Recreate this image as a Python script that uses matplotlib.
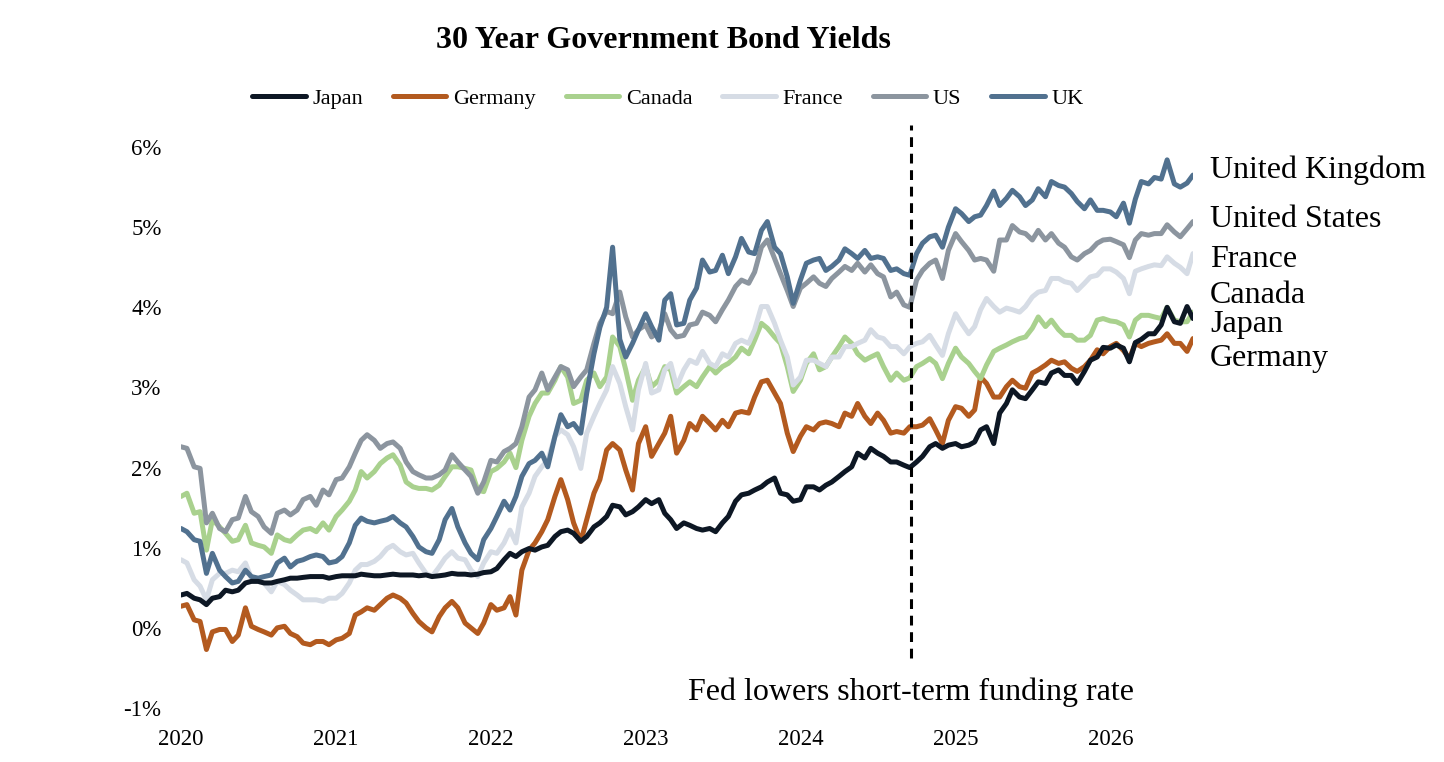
import matplotlib
matplotlib.use("Agg")
import matplotlib.pyplot as plt
import matplotlib.dates as mdates
import matplotlib.transforms as mtransforms
import pandas as pd

plt.rcParams['font.family'] = ['Liberation Serif', 'DejaVu Serif']

# half-monthly observations, Jan 2020 - mid Jul 2026 (158 points)
dates = pd.date_range("2020-01-01", periods=158, freq="SMS")

japan = [0.41, 0.43, 0.37, 0.35, 0.29, 0.37, 0.39, 0.47, 0.45, 0.47,
         0.56, 0.58, 0.58, 0.56, 0.56, 0.58, 0.60, 0.62, 0.62, 0.63,
         0.64, 0.64, 0.64, 0.62, 0.64, 0.65, 0.65, 0.65, 0.67, 0.66,
         0.65, 0.65, 0.66, 0.67, 0.66, 0.66, 0.66, 0.65, 0.66, 0.64,
         0.65, 0.66, 0.68, 0.67, 0.67, 0.66, 0.67, 0.69, 0.70, 0.74,
         0.85, 0.93, 0.89, 0.95, 0.99, 0.97, 1.01, 1.03, 1.14, 1.20,
         1.22, 1.18, 1.08, 1.14, 1.26, 1.31, 1.39, 1.53, 1.51, 1.41,
         1.45, 1.51, 1.60, 1.55, 1.60,
         1.43, 1.35, 1.24, 1.31, 1.28, 1.24, 1.22, 1.24, 1.20, 1.31,
         1.39, 1.58, 1.66, 1.68, 1.72, 1.76, 1.82, 1.87, 1.68, 1.66,
         1.58, 1.60, 1.76, 1.76, 1.72, 1.78, 1.82, 1.89, 1.95, 2.01,
         2.18, 2.12, 2.24, 2.18, 2.14, 2.07, 2.07, 2.03, 2.00,
         2.07, 2.14, 2.26, 2.30, 2.24, 2.28, 2.30, 2.26, 2.28, 2.32,
         2.47, 2.51, 2.30, 2.68, 2.80, 2.97, 2.88, 2.86, 2.97, 3.07,
         3.05, 3.18, 3.22, 3.15, 3.15, 3.05, 3.20, 3.34, 3.38,
         3.50, 3.49, 3.53, 3.49, 3.32, 3.56, 3.60, 3.67, 3.67, 3.78,
         4.00, 3.82, 3.80, 4.01, 3.86]

germany = [0.27, 0.29, 0.10, 0.08, -0.27, -0.05, -0.02, -0.02, -0.17, -0.09,
           0.25, 0.02, -0.02, -0.05, -0.09, 0.00, 0.02, -0.07, -0.11, -0.19,
           -0.21, -0.17, -0.17, -0.21, -0.15, -0.13, -0.07, 0.16, 0.20, 0.25,
           0.22, 0.29, 0.37, 0.41, 0.37, 0.31, 0.18, 0.08, 0.00, -0.05,
           0.14, 0.25, 0.33, 0.25, 0.06, 0.00, -0.07, 0.06, 0.29, 0.22,
           0.25, 0.39, 0.16, 0.72, 0.97, 1.06, 1.20, 1.35, 1.64, 1.85,
           1.60, 1.31, 1.08, 1.35, 1.68, 1.85, 2.22, 2.30, 2.22, 1.97,
           1.72, 2.30, 2.51, 2.14, 2.30,
           2.43, 2.64, 2.18, 2.34, 2.55, 2.47, 2.64, 2.55, 2.47, 2.59,
           2.51, 2.68, 2.70, 2.68, 2.88, 3.07, 3.09, 2.93, 2.80, 2.43,
           2.20, 2.39, 2.51, 2.47, 2.55, 2.57, 2.55, 2.51, 2.68, 2.64,
           2.80, 2.64, 2.55, 2.68, 2.59, 2.43, 2.45, 2.43, 2.51,
           2.51, 2.53, 2.61, 2.47, 2.30, 2.59, 2.76, 2.74, 2.64, 2.72,
           3.13, 3.05, 2.88, 2.88, 3.01, 3.09, 3.01, 2.99, 3.18, 3.22,
           3.28, 3.34, 3.30, 3.32, 3.24, 3.20, 3.26, 3.34, 3.47,
           3.42, 3.51, 3.55, 3.46, 3.36, 3.55, 3.51, 3.55, 3.57, 3.59,
           3.67, 3.55, 3.55, 3.45, 3.61]

canada = [1.64, 1.68, 1.43, 1.45, 0.97, 1.35, 1.26, 1.18, 1.08, 1.10,
          1.28, 1.06, 1.03, 1.01, 0.93, 1.16, 1.10, 1.08, 1.16, 1.22,
          1.24, 1.20, 1.31, 1.22, 1.39, 1.47, 1.58, 1.72, 1.95, 1.87,
          1.95, 2.05, 2.12, 2.16, 2.03, 1.82, 1.76, 1.74, 1.74, 1.72,
          1.78, 1.89, 2.01, 2.01, 1.99, 1.97, 1.72, 1.70, 1.95, 1.99,
          2.07, 2.18, 2.00, 2.34, 2.64, 2.80, 2.93, 2.93, 3.09, 3.26,
          3.13, 2.80, 2.84, 3.09, 3.18, 3.01, 3.13, 3.63, 3.51, 3.22,
          2.84, 3.09, 3.26, 3.01, 3.09,
          3.26, 3.22, 2.93, 3.01, 3.07, 3.01, 3.13, 3.26, 3.18, 3.26,
          3.30, 3.38, 3.49, 3.42, 3.59, 3.80, 3.74, 3.63, 3.55, 3.26,
          2.95, 3.09, 3.30, 3.42, 3.22, 3.26, 3.38, 3.51, 3.63, 3.55,
          3.42, 3.34, 3.38, 3.42, 3.26, 3.09, 3.18, 3.09, 3.12,
          3.26, 3.30, 3.36, 3.30, 3.11, 3.30, 3.49, 3.38, 3.30, 3.20,
          3.11, 3.28, 3.45, 3.49, 3.53, 3.57, 3.61, 3.63, 3.74, 3.88,
          3.76, 3.84, 3.72, 3.65, 3.65, 3.59, 3.59, 3.65, 3.84,
          3.86, 3.83, 3.82, 3.78, 3.63, 3.84, 3.90, 3.90, 3.88, 3.86,
          4.00, 3.84, 3.82, 3.82, 3.94]

france = [0.85, 0.81, 0.60, 0.52, 0.35, 0.60, 0.68, 0.68, 0.72, 0.70,
          0.81, 0.62, 0.58, 0.56, 0.45, 0.58, 0.54, 0.47, 0.41, 0.35,
          0.35, 0.35, 0.33, 0.37, 0.37, 0.43, 0.56, 0.72, 0.79, 0.79,
          0.83, 0.89, 0.99, 1.03, 0.95, 0.91, 0.93, 0.81, 0.68, 0.64,
          0.76, 0.87, 0.95, 0.87, 0.85, 0.72, 0.64, 0.81, 0.95, 0.93,
          1.06, 1.22, 1.06, 1.51, 1.68, 1.89, 2.01, 2.09, 2.39, 2.47,
          2.41, 2.26, 1.99, 2.43, 2.64, 2.80, 2.97, 3.26, 3.05, 2.76,
          2.47, 2.97, 3.30, 2.93, 2.97,
          3.22, 3.30, 3.01, 3.22, 3.34, 3.30, 3.45, 3.30, 3.26, 3.42,
          3.38, 3.55, 3.59, 3.55, 3.72, 4.01, 4.01, 3.80, 3.59, 3.38,
          3.03, 3.13, 3.34, 3.34, 3.30, 3.26, 3.38, 3.38, 3.51, 3.51,
          3.55, 3.59, 3.72, 3.63, 3.61, 3.51, 3.51, 3.42, 3.51,
          3.55, 3.57, 3.65, 3.53, 3.40, 3.67, 3.92, 3.80, 3.67, 3.76,
          3.97, 4.11, 4.01, 3.94, 3.99, 3.97, 3.94, 4.01, 4.13, 4.19,
          4.21, 4.36, 4.36, 4.32, 4.30, 4.21, 4.30, 4.38, 4.40,
          4.48, 4.48, 4.44, 4.36, 4.17, 4.45, 4.48, 4.51, 4.53, 4.52,
          4.63, 4.55, 4.50, 4.42, 4.67]

us = [2.26, 2.24, 2.01, 1.99, 1.31, 1.43, 1.24, 1.20, 1.35, 1.37,
      1.64, 1.45, 1.39, 1.26, 1.18, 1.43, 1.47, 1.41, 1.47, 1.60,
      1.64, 1.53, 1.72, 1.66, 1.85, 1.87, 2.01, 2.18, 2.34, 2.41,
      2.34, 2.24, 2.30, 2.32, 2.24, 2.07, 1.95, 1.91, 1.87, 1.87,
      1.91, 1.97, 2.16, 2.07, 1.97, 1.89, 1.68, 1.82, 2.09, 2.07,
      2.20, 2.24, 2.30, 2.51, 2.88, 2.97, 3.18, 2.97, 3.13, 3.26,
      3.22, 3.01, 3.13, 3.22, 3.55, 3.80, 3.95, 3.92, 4.19, 3.88,
      3.63, 3.72, 3.78, 3.63, 3.70,
      3.92, 3.72, 3.63, 3.65, 3.78, 3.80, 3.94, 3.90, 3.82, 3.97,
      4.09, 4.26, 4.34, 4.30, 4.44, 4.75, 4.84, 4.61, 4.42, 4.21,
      4.01, 4.24, 4.30, 4.38, 4.30, 4.26, 4.36, 4.44, 4.51, 4.46,
      4.55, 4.44, 4.53, 4.42, 4.38, 4.13, 4.19, 4.03, 4.00,
      4.34, 4.46, 4.55, 4.59, 4.36, 4.71, 4.92, 4.82, 4.71, 4.59,
      4.61, 4.59, 4.45, 4.84, 4.84, 5.02, 4.94, 4.92, 4.84, 4.96,
      4.84, 4.92, 4.80, 4.75, 4.63, 4.59, 4.67, 4.71, 4.80,
      4.84, 4.85, 4.82, 4.78, 4.62, 4.84, 4.92, 4.90, 4.92, 4.92,
      5.03, 4.94, 4.88, 4.98, 5.07]

uk = [1.24, 1.20, 1.10, 1.08, 0.68, 0.93, 0.72, 0.64, 0.56, 0.58,
      0.72, 0.64, 0.62, 0.64, 0.66, 0.81, 0.87, 0.76, 0.83, 0.85,
      0.89, 0.91, 0.89, 0.81, 0.83, 0.89, 1.06, 1.28, 1.37, 1.33,
      1.31, 1.33, 1.35, 1.39, 1.31, 1.26, 1.14, 1.01, 0.95, 0.93,
      1.10, 1.35, 1.49, 1.26, 1.06, 0.93, 0.85, 1.10, 1.24, 1.39,
      1.58, 1.47, 1.64, 1.89, 2.05, 2.09, 2.18, 2.01, 2.39, 2.66,
      2.51, 2.55, 2.43, 2.93, 3.42, 3.75, 4.00, 4.75, 3.60, 3.38,
      3.55, 3.72, 3.92, 3.76, 3.59,
      4.09, 4.17, 3.78, 3.80, 4.09, 4.24, 4.59, 4.44, 4.46, 4.65,
      4.42, 4.63, 4.86, 4.69, 4.67, 4.96, 5.07, 4.75, 4.67, 4.38,
      4.05, 4.34, 4.55, 4.59, 4.61, 4.46, 4.51, 4.59, 4.73, 4.67,
      4.61, 4.71, 4.61, 4.63, 4.61, 4.46, 4.48, 4.42, 4.40,
      4.67, 4.80, 4.88, 4.90, 4.75, 5.00, 5.23, 5.17, 5.07, 5.13,
      5.15, 5.27, 5.45, 5.27, 5.36, 5.46, 5.38, 5.27, 5.34, 5.48,
      5.38, 5.57, 5.52, 5.50, 5.42, 5.32, 5.23, 5.34, 5.21,
      5.21, 5.19, 5.13, 5.30, 5.05, 5.35, 5.57, 5.54, 5.62, 5.60,
      5.84, 5.54, 5.50, 5.55, 5.65]

series = [("Japan", japan, "#0d1724"),
          ("Germany", germany, "#b35a1f"),
          ("Canada", canada, "#a9d18e"),
          ("France", france, "#d6dce5"),
          ("US", us, "#8c959f"),
          ("UK", uk, "#51718f")]

end_labels = [("United Kingdom", 5.71), ("United States", 5.10), ("France", 4.60),
              ("Canada", 4.15), ("Japan", 3.79), ("Germany", 3.36)]

fed_cut = pd.Timestamp("2024-09-18")
years = list(range(2020, 2027))
yticks = list(range(-1, 7))

fig = plt.figure(figsize=(14.44, 7.62), dpi=100)
ax = fig.add_axes([181 / 1444, 1 - 708 / 762, (1193 - 181) / 1444, (708 - 123) / 762])

for name, vals, col in series:
    z = 4 if name == "Japan" else 3
    ax.plot(dates, vals, color=col, lw=3.6, label=name, zorder=z,
            solid_joinstyle='round', solid_capstyle='round')

ax.plot([fed_cut, fed_cut], [-0.37, 6.28], color='black', lw=2.2,
        linestyle=(0, (3.2, 2.2)), zorder=5)
ax.text(fed_cut, -0.80, "Fed lowers short-term funding rate", ha='center',
        va='center', fontsize=23)

trans = mtransforms.blended_transform_factory(ax.transAxes, ax.transData)
for txt, yv in end_labels:
    ax.text(1.0168, yv, txt, transform=trans, ha='left', va='center',
            fontsize=23, clip_on=False)

ax.set_xlim(dates[0], dates[-1])
ax.set_ylim(-1, 6.3)
ax.set_xticks([pd.Timestamp(f"{y}-01-01") for y in years])
ax.xaxis.set_major_formatter(mdates.DateFormatter("%Y"))
ax.set_yticks(yticks)
ax.set_yticklabels([f"{v}%" for v in yticks])
ax.tick_params(axis='both', length=0, labelsize=16.5)
ax.tick_params(axis='y', pad=14)
ax.tick_params(axis='x', pad=15)
for s in ax.spines.values():
    s.set_visible(False)

fig.text(663 / 1444, 1 - 41 / 762, "30 Year Government Bond Yields",
         ha='center', va='center', fontsize=23, fontweight='bold')

handles, labels = ax.get_legend_handles_labels()
fig.legend(handles, labels, loc='center', bbox_to_anchor=(668 / 1444, 1 - 99 / 762),
           ncol=6, frameon=False, fontsize=16, handlelength=2.4,
           handletextpad=0.3, columnspacing=1.35)

fig.savefig("out.png", dpi=100)
